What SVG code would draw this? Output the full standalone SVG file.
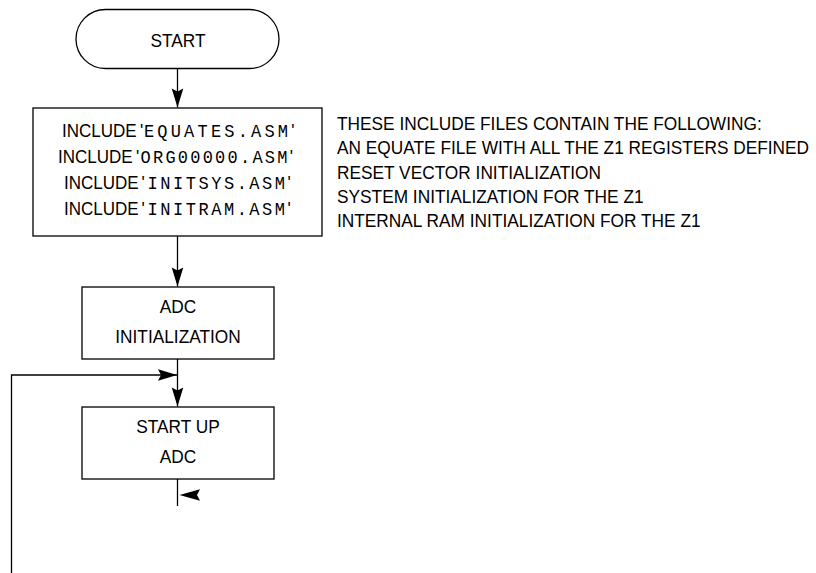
<svg xmlns="http://www.w3.org/2000/svg" width="816" height="573" viewBox="0 0 816 573">
<style>
.box{fill:#fff;stroke:#000;stroke-width:1.3}
.ln{fill:none;stroke:#000;stroke-width:1.3}
.t{font-family:"Liberation Sans",Arial,sans-serif;font-size:18.5px;fill:#000}
.m{font-family:"Liberation Mono","Courier New",monospace;font-size:18.5px}
.c{text-anchor:middle}
</style>
<defs>
<marker id="ah" markerUnits="userSpaceOnUse" markerWidth="22" markerHeight="14" viewBox="-20 -7 22 14" refX="0" refY="0" orient="auto">
<path d="M0,0 L-19,-5.8 L-16,0 L-19,5.8 Z" fill="#000"/>
</marker>
</defs>
<rect width="816" height="573" fill="#fff"/>
<g id="connectors">
<line class="ln" x1="177.5" y1="68" x2="177.5" y2="107.5" marker-end="url(#ah)"/>
<line class="ln" x1="177.5" y1="236" x2="177.5" y2="286.5" marker-end="url(#ah)"/>
<line class="ln" x1="177.5" y1="359" x2="177.5" y2="406.5" marker-end="url(#ah)"/>
<polyline class="ln" points="11.5,573 11.5,375 177,375" marker-end="url(#ah)"/>
<line class="ln" x1="177.5" y1="479" x2="177.5" y2="506"/>
<path d="M179.5,495 L200,489.2 L197,495 L200,500.8 Z" fill="#000"/>
</g>
<g id="start">
<rect class="box" x="76" y="9.5" width="203" height="59" rx="29.5" ry="29.5"/>
<text class="t c" transform="translate(178,46.5) scale(0.935,1)">START</text>
</g>
<g id="includes">
<rect class="box" x="33" y="108" width="289" height="128"/>
<text class="t" transform="translate(62,137) scale(0.92,1)"><tspan x="0">INCLUDE</tspan><tspan x="84.8">'</tspan><tspan class="m" x="89.1" letter-spacing="3.45">EQUATES.ASM</tspan><tspan>'</tspan></text>
<text class="t" transform="translate(58,163) scale(0.92,1)"><tspan x="0">INCLUDE</tspan><tspan x="84.8">'</tspan><tspan class="m" x="89.7" letter-spacing="2.42">ORG00000.ASM</tspan><tspan>'</tspan></text>
<text class="t" transform="translate(64,189) scale(0.92,1)"><tspan x="0">INCLUDE</tspan><tspan x="84.2">'</tspan><tspan class="m" x="90.8" letter-spacing="2.74">INITSYS.ASM</tspan><tspan>'</tspan></text>
<text class="t" transform="translate(64,215) scale(0.92,1)"><tspan x="0">INCLUDE</tspan><tspan x="84.2">'</tspan><tspan class="m" x="90.8" letter-spacing="2.74">INITRAM.ASM</tspan><tspan>'</tspan></text>
</g>
<g id="note">
<text class="t" transform="translate(337,130) scale(0.935,1)">THESE INCLUDE FILES CONTAIN THE FOLLOWING:</text>
<text class="t" transform="translate(337,154.3) scale(0.935,1)">AN EQUATE FILE WITH ALL THE Z1 REGISTERS DEFINED</text>
<text class="t" transform="translate(337,178.6) scale(0.935,1)">RESET VECTOR INITIALIZATION</text>
<text class="t" transform="translate(337,202.9) scale(0.935,1)">SYSTEM INITIALIZATION FOR THE Z1</text>
<text class="t" transform="translate(337,227.2) scale(0.935,1)">INTERNAL RAM INITIALIZATION FOR THE Z1</text>
</g>
<g id="adc-init">
<rect class="box" x="82" y="287" width="192" height="72"/>
<text class="t c" transform="translate(178,313) scale(0.935,1)">ADC</text>
<text class="t c" transform="translate(178,343) scale(0.935,1)">INITIALIZATION</text>
</g>
<g id="startup-adc">
<rect class="box" x="82" y="407" width="192" height="72"/>
<text class="t c" transform="translate(178,433) scale(0.935,1)">START UP</text>
<text class="t c" transform="translate(178,463) scale(0.935,1)">ADC</text>
</g>
</svg>
